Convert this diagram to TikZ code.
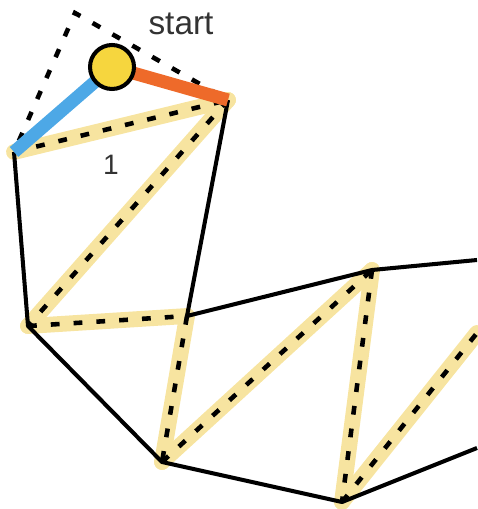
\documentclass[tikz,border=0pt]{standalone}
\usepackage{fontspec}
\setmainfont{Liberation Sans}
\usetikzlibrary{calc}
\definecolor{hl}{HTML}{F7E4A0}
\definecolor{edgeblue}{HTML}{4DA8E6}
\definecolor{edgeorange}{HTML}{EE6A2A}
\definecolor{startfill}{HTML}{F6D63E}
\definecolor{txt}{HTML}{333333}

\begin{document}
\begin{tikzpicture}[
    x=0.02cm, y=-0.02cm,
    mesh/.style={line width=2.3pt, black, line join=round},
    glow/.style={line width=9pt, hl, line cap=round},
    walk/.style={line width=2.6pt, black, dash pattern=on 5pt off 8pt},
    flap/.style={line width=7.4pt},
    label/.style={font=\fontsize{16}{16}\selectfont, text=txt, inner sep=0pt},
]
\useasboundingbox (0,0) rectangle (477,509);

% Vertices
\coordinate (vA) at (14,152);
\coordinate (vB) at (228,100);
\coordinate (vC) at (28,326);
\coordinate (vD) at (187,316);
\coordinate (vE) at (162,462);
\coordinate (vF) at (372,270);
\coordinate (vG) at (477,260);
\coordinate (vH) at (342,502);
\coordinate (vI) at (477,448);
\coordinate (vJ) at (477,333);
\coordinate (top) at (75,13);
\coordinate (s0) at (112,67);

% Highlighted diagonals
\foreach \p/\q in {vA/vB, vB/vC, vC/vD, vD/vE, vE/vF, vF/vH, vH/vJ}
  \draw[glow] (\p) -- (\q);

% Outer edges
\draw[mesh] (vA) -- (vC) -- (vE) -- (vH) -- (vI);
\draw[mesh] (vB) -- (vD) -- (vF) -- (vG);

% Dashed path
\foreach \p/\q in {vA/vB, vB/vC, vC/vD, vD/vE, vE/vF, vF/vH, vH/vJ}
  \draw[walk] (\p) -- (\q);
\draw[walk] ($(vA)!0.08!(top)$) -- (top) -- ($(vB)!0.06!(top)$);

% Start vertex
\draw[flap, edgeblue] (s0) -- (vA);
\draw[flap, edgeorange] (s0) -- (vB);
\node[circle, draw, line width=2.3pt, fill=startfill, minimum size=0.88cm, inner sep=0pt] (start) at (s0) {};

\node[label, font=\fontsize{19}{19}\selectfont] (startlbl) at (181,24) {start};
\node[label] (one) at (111,165) {1};

\end{tikzpicture}
\end{document}
